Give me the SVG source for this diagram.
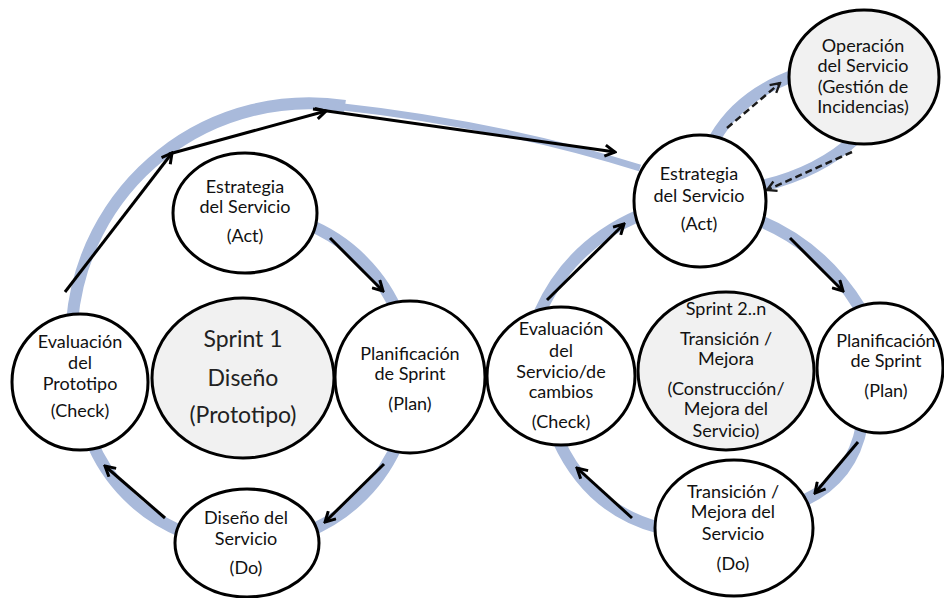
<svg xmlns="http://www.w3.org/2000/svg" width="944" height="598" viewBox="0 0 944 598">
  <style>
    .band { fill: none; stroke: #a9badb; stroke-width: 12; stroke-linecap: butt; }
    .band-thin { fill: none; stroke: #a9badb; stroke-width: 7; }
    .node { stroke: #000; stroke-width: 3; fill: #fff; }
    .core { stroke: #000; stroke-width: 3; fill: #f1f1f1; }
    .arrow { stroke: #000; stroke-width: 3; fill: none; marker-end: url(#head); }
    .dashed { stroke: #1a1a1a; stroke-width: 2.5; fill: none; stroke-dasharray: 7 4; marker-end: url(#head-d); }
    text { font-family: Lato, "Liberation Sans", sans-serif; font-size: 18px; fill: #111; text-anchor: middle; }
    .big { font-size: 23px; fill: #222; }
  </style>
  <defs>
    <marker id="head" viewBox="0 0 14 14" refX="12" refY="7" markerWidth="14" markerHeight="14" markerUnits="userSpaceOnUse" orient="auto">
      <path d="M2,1.5 L12,7 L2,12.5" fill="none" stroke="#000" stroke-width="3" stroke-linejoin="miter"/>
    </marker>
    <marker id="head-d" viewBox="0 0 14 14" refX="12" refY="7" markerWidth="13" markerHeight="13" markerUnits="userSpaceOnUse" orient="auto">
      <path d="M2,1.5 L12,7 L2,12.5" fill="none" stroke="#1a1a1a" stroke-width="2.5"/>
    </marker>
  </defs>

  <!-- flow bands and arrows -->
  <g id="connectors">
    <!-- sprint 1 cycle -->
    <path class="band" d="M 245 212 A 166 166 0 1 1 79 378"/>
    <path class="band" d="M 72 322 A 238 238 0 0 1 345 106"/>
    <path class="band-thin" d="M 335 106 Q 500 124 640 168"/>
    <!-- sprint 2..n cycle -->
    <path class="band" d="M 540 312 Q 570 245 640 215"/>
    <path class="band" d="M 758 220 Q 822 246 860 308"/>
    <path class="band" d="M 862 425 Q 852 478 805 500"/>
    <path class="band" d="M 660 528 Q 590 510 558 440"/>
    <path class="band" d="M 715 138 Q 740 95 795 75"/>
    <path class="band" d="M 856 138 Q 820 172 762 186"/>

    <line class="arrow" x1="330" y1="238" x2="383" y2="291"/>
    <line class="arrow" x1="384" y1="464" x2="325" y2="522"/>
    <line class="arrow" x1="165" y1="518" x2="105" y2="466"/>
    <line class="arrow" x1="65" y1="292" x2="172" y2="153"/>
    <line class="arrow" x1="169" y1="154" x2="326" y2="111"/>
    <line class="arrow" x1="313" y1="109" x2="615" y2="152"/>

    <line class="arrow" x1="547" y1="300" x2="624" y2="224"/>
    <line class="arrow" x1="790" y1="238" x2="843" y2="291"/>
    <line class="arrow" x1="858" y1="442" x2="815" y2="493"/>
    <line class="arrow" x1="632" y1="518" x2="577" y2="468"/>
    <line class="dashed" x1="727" y1="128" x2="780" y2="83"/>
    <line class="dashed" x1="852" y1="152" x2="767" y2="190"/>
  </g>

  <!-- Sprint 1 -->
  <g id="estrategia-1">
    <ellipse class="node" cx="245" cy="213" rx="72" ry="60"/>
    <text x="245" y="193">Estrategia</text>
    <text x="245" y="213">del Servicio</text>
    <text x="245" y="242">(Act)</text>
  </g>
  <g id="sprint-1">
    <ellipse class="core" cx="243" cy="378" rx="91" ry="80"/>
    <text class="big" x="243" y="347">Sprint 1</text>
    <text class="big" x="243" y="386">Diseño</text>
    <text class="big" x="243" y="423">(Prototipo)</text>
  </g>
  <g id="planificacion-1">
    <ellipse class="node" cx="410" cy="377" rx="75" ry="76"/>
    <text x="410" y="360">Planificación</text>
    <text x="410" y="380">de Sprint</text>
    <text x="410" y="410">(Plan)</text>
  </g>
  <g id="diseno-servicio">
    <ellipse class="node" cx="247" cy="543" rx="72" ry="54"/>
    <text x="246" y="524">Diseño del</text>
    <text x="246" y="545">Servicio</text>
    <text x="246" y="574">(Do)</text>
  </g>
  <g id="evaluacion-prototipo">
    <ellipse class="node" cx="80" cy="382" rx="68" ry="68"/>
    <text x="80" y="348">Evaluación</text>
    <text x="80" y="369">del</text>
    <text x="80" y="390">Prototipo</text>
    <text x="80" y="417">(Check)</text>
  </g>

  <!-- Sprint 2..n -->
  <g id="estrategia-2">
    <ellipse class="node" cx="700" cy="201" rx="66" ry="66"/>
    <text x="699" y="180">Estrategia</text>
    <text x="699" y="202">del Servicio</text>
    <text x="699" y="230">(Act)</text>
  </g>
  <g id="operacion">
    <ellipse class="core" cx="864" cy="77" rx="75" ry="67"/>
    <text x="863" y="52">Operación</text>
    <text x="863" y="72">del Servicio</text>
    <text x="863" y="93">(Gestión de</text>
    <text x="863" y="113">Incidencias)</text>
  </g>
  <g id="sprint-2n">
    <ellipse class="core" cx="726" cy="371" rx="88" ry="79"/>
    <text x="726" y="315">Sprint 2..n</text>
    <text x="726" y="345">Transición /</text>
    <text x="726" y="365">Mejora</text>
    <text x="726" y="395">(Construcción/</text>
    <text x="726" y="415">Mejora del</text>
    <text x="726" y="437">Servicio)</text>
  </g>
  <g id="planificacion-2">
    <ellipse class="node" cx="880" cy="368" rx="63" ry="65"/>
    <text x="886" y="347">Planificación</text>
    <text x="886" y="367">de Sprint</text>
    <text x="886" y="397">(Plan)</text>
  </g>
  <g id="transicion-mejora">
    <ellipse class="node" cx="734" cy="528" rx="79" ry="68"/>
    <text x="733" y="498">Transición /</text>
    <text x="733" y="518">Mejora del</text>
    <text x="733" y="540">Servicio</text>
    <text x="733" y="570">(Do)</text>
  </g>
  <g id="evaluacion-servicio">
    <ellipse class="node" cx="561" cy="376" rx="74" ry="69"/>
    <text x="561" y="335">Evaluación</text>
    <text x="561" y="357">del</text>
    <text x="561" y="378">Servicio/de</text>
    <text x="561" y="398">cambios</text>
    <text x="561" y="428">(Check)</text>
  </g>
</svg>
